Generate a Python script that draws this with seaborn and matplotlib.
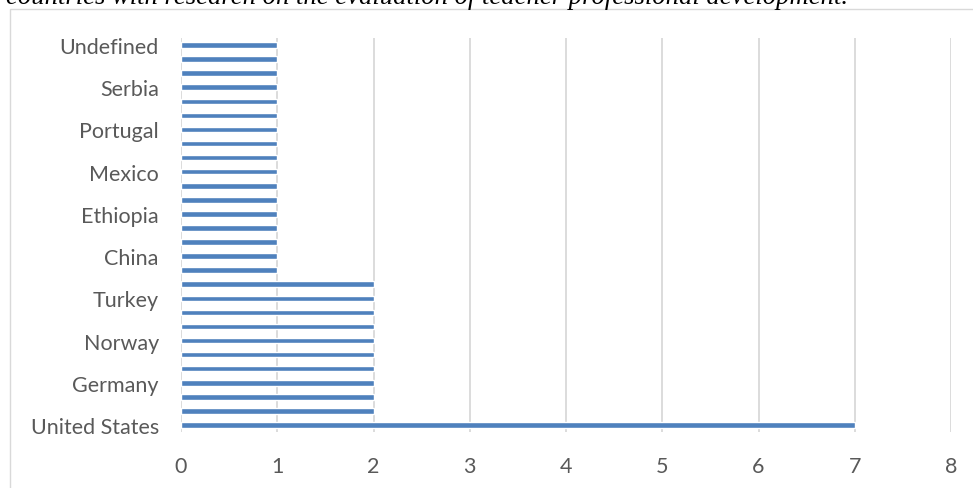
import matplotlib
matplotlib.use("Agg")
import matplotlib.pyplot as plt
import seaborn as sns
import pandas as pd
from matplotlib.patches import Rectangle

# Categories listed top to bottom (as shown in the chart)
countries = [
    "Undefined", "South Africa", "Singapore", "Serbia", "Saudi Arabia", "Qatar",
    "Portugal", "Pakistan", "Nigeria", "Mexico", "Israel", "Iran",
    "Ethiopia", "Cyprus", "Croatia", "China", "Chile",
    "United Kingdom", "Turkey", "Sweden", "Spain", "Norway", "Netherlands",
    "Indonesia", "Germany", "Finland", "Australia", "United States",
]
counts = [1] * 17 + [2] * 10 + [7]
shown_labels = ["Undefined", "Serbia", "Portugal", "Mexico", "Ethiopia",
                "China", "Turkey", "Norway", "Germany", "United States"]
x_ticks = [0, 1, 2, 3, 4, 5, 6, 7, 8]
title_text = "countries with research on the evaluation of teacher professional development."

df = pd.DataFrame({"country": countries, "count": counts})

sns.set_theme(style="white")
plt.rcParams["font.family"] = ["Lato", "DejaVu Sans"]

fig = plt.figure(figsize=(9.73, 4.89), dpi=100)
ax = fig.add_axes([181 / 973, 1 - 433 / 489, (951 - 181) / 973, (433 - 39) / 489])

sns.barplot(data=df, y="country", x="count", orient="h", order=countries,
            color="#4f81bd", saturation=1, width=0.4, ax=ax)

ax.set_xlim(0, 8)
ax.set_ylim(len(countries) - 0.5, -0.5)
ax.set_xticks(x_ticks)
ax.set_xticklabels([str(t) for t in x_ticks])
pos = [countries.index(c) for c in shown_labels]
ax.set_yticks(pos)
ax.set_yticklabels(shown_labels)
ax.set_xlabel("")
ax.set_ylabel("")
for s in ax.spines.values():
    s.set_visible(False)
ax.grid(axis="x", color="#d9d9d9", linewidth=1.3)
ax.set_axisbelow(True)
ax.tick_params(axis="both", length=0, labelsize=15.5, labelcolor="#595959")
ax.tick_params(axis="y", pad=16)
ax.tick_params(axis="x", pad=17)

# outer chart frame (cropped at right and bottom)
fig.patches.append(Rectangle((10 / 973, -0.1), 1.2, 1.1 - 9.5 / 489,
                             transform=fig.transFigure, fill=False,
                             edgecolor="#d9d9d9", linewidth=1.0))

fig.text(6 / 973, 1 - 3.5 / 489, title_text, family="Liberation Serif",
         style="italic", fontsize=19.2, va="baseline", ha="left", color="black")

fig.savefig("out.png", dpi=100, facecolor="white")
